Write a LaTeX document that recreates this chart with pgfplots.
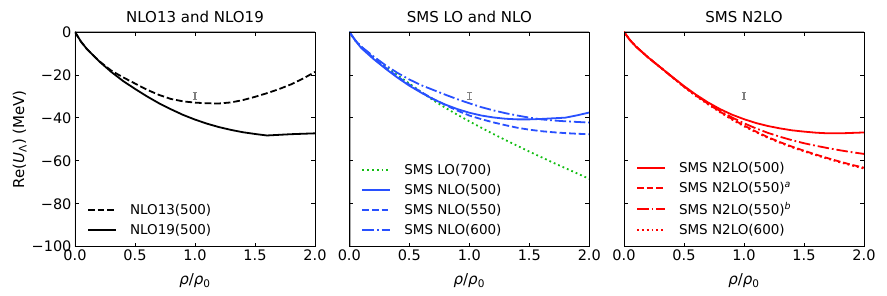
\documentclass[border=0pt]{standalone}
\usepackage{pgfplots}
\pgfplotsset{compat=1.18}
\usepackage{fontspec}
\setmainfont{DejaVu Sans}
\definecolor{cblue}{RGB}{40,80,255}
\definecolor{cred}{RGB}{255,0,0}
\definecolor{cgreen}{RGB}{20,190,20}
\definecolor{zgray}{RGB}{170,170,170}
\definecolor{egray}{RGB}{128,128,128}
\tikzset{
  mdashed/.style={dash pattern=on 6.7pt off 2.9pt},
  mdashdot/.style={dash pattern=on 11.5pt off 2.9pt on 1.8pt off 2.9pt},
  mdotted/.style={dash pattern=on 1.8pt off 3pt},
}
\pgfplotsset{
  panel/.style={
    scale only axis, width=240pt, height=214.7pt,
    xmin=0, xmax=2, ymin=-100, ymax=0,
    xtick={0,0.5,1,1.5,2}, xticklabels={0.0,0.5,1.0,1.5,2.0},
    ytick={-100,-80,-60,-40,-20,0},
    tick align=inside, tick pos=both,
    major tick length=4pt,
    tick style={black, line width=0.8pt},
    axis line style={line width=0.8pt},
    axis on top,
    ticklabel style={font=\fontsize{14.5}{16}\selectfont},
    every axis title/.style={at={(axis description cs:0.5,1)}, anchor=base, yshift=9.3pt, inner sep=0pt, font=\fontsize{15}{17}\selectfont},
    every axis x label/.style={at={(axis description cs:0.5,0)}, anchor=base, yshift=-38.3pt, inner sep=0pt, font=\fontsize{15}{17}\selectfont},
    every axis y label/.style={at={(axis description cs:-0.2125,0.5)}, rotate=90, anchor=base, inner sep=0pt, font=\fontsize{15}{17}\selectfont},
    xlabel={\textit{ρ}/\textit{ρ}\textsubscript{0}},
    legend cell align=left,
    legend image code/.code={\draw[line width=1.8pt,#1] plot coordinates {(0pt,0pt) (28pt,0pt)};},
    legend style={at={(axis description cs:0.05,0.04)}, anchor=south west, draw=none, fill=none, inner sep=0pt,
      font=\fontsize{13.5}{15}\selectfont, row sep=4.2pt, column sep=11pt},
  },
}
\newcommand\refplots{%
  \addplot[zgray, line width=2.5pt, forget plot] coordinates {(0,0) (2,0)};
  \addplot[zgray, line width=2.5pt, forget plot] coordinates {(0,0) (0,-100)};
  \addplot[egray, line width=1.2pt, forget plot] coordinates {(1,-28.1) (1,-31.5)};
  \addplot[egray, line width=1.2pt, forget plot] coordinates {(0.981,-28.1) (1.019,-28.1)};
  \addplot[egray, line width=1.2pt, forget plot] coordinates {(0.981,-31.5) (1.019,-31.5)};
}
\begin{document}
\begin{tikzpicture}
\useasboundingbox (0,0) rectangle (887pt,296pt);
% ---------------- Panel 1 ----------------
\begin{axis}[panel, at={(75pt,49.3pt)}, anchor=south west,
  title={NLO13 and NLO19},
  ylabel={Re(\textit{U}\textsubscript{Λ}) (MeV)},
  yticklabels={−100,−80,−60,−40,−20,0}]
\refplots
\addplot[black, line width=1.8pt, mdashed] coordinates {
 (0,0) (0.05,-4.5) (0.1,-8) (0.2,-13.5) (0.3,-17.9) (0.4,-21.1) (0.5,-24.0) (0.6,-26.9)
 (0.7,-29.3) (0.8,-31.2) (0.9,-32.3) (1.0,-32.9) (1.1,-33.2) (1.2,-33.3) (1.3,-32.8)
 (1.4,-31.7) (1.5,-30.2) (1.6,-28.5) (1.7,-26.6) (1.8,-24.4) (1.9,-21.7) (2.0,-18.6)};
\addlegendentry{NLO13(500)}
\addplot[black, line width=1.8pt] coordinates {
 (0,0) (0.05,-4.5) (0.1,-8) (0.2,-13.6) (0.3,-18.5) (0.4,-22.8) (0.5,-26.5) (0.6,-30.0)
 (0.7,-33.2) (0.8,-36.0) (0.9,-38.6) (1.0,-40.8) (1.1,-42.7) (1.2,-44.3) (1.3,-45.6)
 (1.4,-46.7) (1.5,-47.5) (1.6,-48.2) (1.7,-47.9) (1.8,-47.6) (1.9,-47.4) (2.0,-47.2)};
\addlegendentry{NLO19(500)}
\end{axis}
% ---------------- Panel 2 ----------------
\begin{axis}[panel, at={(349.3pt,49.3pt)}, anchor=south west,
  title={SMS LO and NLO}, yticklabels={}]
\refplots
\addplot[cgreen, line width=1.8pt, mdotted] coordinates {
 (0,0) (0.05,-4) (0.1,-7) (0.2,-11.8) (0.3,-16) (0.4,-20) (0.5,-24) (0.6,-28) (0.7,-31.8)
 (0.8,-35.3) (0.9,-38.5) (1.0,-41.6) (1.1,-44.6) (1.2,-47.5) (1.3,-50.3) (1.4,-53)
 (1.5,-55.7) (1.6,-58.3) (1.7,-60.9) (1.8,-63.4) (1.9,-65.9) (2.0,-68.4)};
\addlegendentry{SMS LO(700)}
\addplot[cblue, line width=1.8pt] coordinates {
 (0,0) (0.05,-4) (0.1,-7.5) (0.2,-12.5) (0.3,-17) (0.4,-21.2) (0.5,-25) (0.6,-28.3)
 (0.7,-31.3) (0.8,-33.8) (0.9,-35.9) (1.0,-37.6) (1.1,-38.9) (1.2,-39.8) (1.3,-40.4)
 (1.4,-40.7) (1.5,-40.7) (1.6,-40.5) (1.7,-40.2) (1.8,-39.9) (1.9,-38.8) (2.0,-37.5)};
\addlegendentry{SMS NLO(500)}
\addplot[cblue, line width=1.8pt, mdashed] coordinates {
 (0,0) (0.05,-3.9) (0.1,-7) (0.2,-12) (0.3,-16.5) (0.4,-20.7) (0.5,-24.5) (0.6,-28)
 (0.7,-31.2) (0.8,-34) (0.9,-36.6) (1.0,-38.9) (1.1,-40.6) (1.2,-42.1) (1.3,-43.4)
 (1.4,-44.6) (1.5,-45.5) (1.6,-46.2) (1.7,-46.7) (1.8,-47.1) (1.9,-47.4) (2.0,-47.6)};
\addlegendentry{SMS NLO(550)}
\addplot[cblue, line width=1.8pt, mdashdot] coordinates {
 (0,0) (0.05,-3.8) (0.1,-6.8) (0.2,-11.3) (0.3,-15.4) (0.4,-19) (0.5,-22.1) (0.6,-24.8)
 (0.7,-27) (0.8,-29.2) (0.9,-31.3) (1.0,-33.2) (1.1,-35) (1.2,-36.5) (1.3,-37.8)
 (1.4,-38.9) (1.5,-39.9) (1.6,-40.7) (1.7,-41.2) (1.8,-41.6) (1.9,-41.9) (2.0,-42.2)};
\addlegendentry{SMS NLO(600)}
\end{axis}
% ---------------- Panel 3 ----------------
\begin{axis}[panel, at={(624pt,49.3pt)}, anchor=south west,
  title={SMS N2LO}, yticklabels={}]
\refplots
\addplot[cred, line width=1.8pt] coordinates {
 (0,0) (0.05,-3.8) (0.1,-6.8) (0.2,-11.8) (0.3,-16.3) (0.4,-20.8) (0.5,-25.2) (0.6,-29.2)
 (0.7,-32.8) (0.8,-35.9) (0.9,-38.5) (1.0,-40.6) (1.1,-42.4) (1.2,-43.8) (1.3,-44.9)
 (1.4,-45.8) (1.5,-46.4) (1.6,-46.9) (1.7,-47.2) (1.8,-47.2) (1.9,-47.0) (2.0,-46.8)};
\addlegendentry{SMS N2LO(500)}
\addplot[cred, line width=1.8pt, mdashed] coordinates {
 (0,0) (0.05,-3.8) (0.1,-6.8) (0.2,-11.8) (0.3,-16.3) (0.4,-20.9) (0.5,-25.4) (0.6,-29.6)
 (0.7,-33.4) (0.8,-37.1) (0.9,-40.5) (1.0,-43.6) (1.1,-46.4) (1.2,-49.0) (1.3,-51.3)
 (1.4,-53.4) (1.5,-55.3) (1.6,-57.1) (1.7,-58.8) (1.8,-60.4) (1.9,-61.9) (2.0,-63.2)};
\addlegendentry{SMS N2LO(550)\textsuperscript{\textit{a}}}
\addplot[cred, line width=1.8pt, mdashdot] coordinates {
 (0,0) (0.05,-3.8) (0.1,-6.8) (0.2,-11.8) (0.3,-16.3) (0.4,-20.9) (0.5,-25.4) (0.6,-29.5)
 (0.7,-33.2) (0.8,-36.8) (0.9,-39.8) (1.0,-42.5) (1.1,-44.9) (1.2,-47) (1.3,-48.8)
 (1.4,-50.4) (1.5,-51.8) (1.6,-53) (1.7,-54.1) (1.8,-55.1) (1.9,-56) (2.0,-56.8)};
\addlegendentry{SMS N2LO(550)\textsuperscript{\textit{b}}}
\addplot[cred, line width=1.8pt, mdotted] coordinates {
 (0,0) (0.05,-3.8) (0.1,-6.8) (0.2,-11.8) (0.3,-16.4) (0.4,-21.0) (0.5,-25.6) (0.6,-29.9)
 (0.7,-33.7) (0.8,-37.4) (0.9,-40.8) (1.0,-43.9) (1.1,-46.7) (1.2,-49.3) (1.3,-51.6)
 (1.4,-53.7) (1.5,-55.6) (1.6,-57.4) (1.7,-59.1) (1.8,-60.7) (1.9,-62.2) (2.0,-63.6)};
\addlegendentry{SMS N2LO(600)}
\end{axis}
\end{tikzpicture}
\end{document}
